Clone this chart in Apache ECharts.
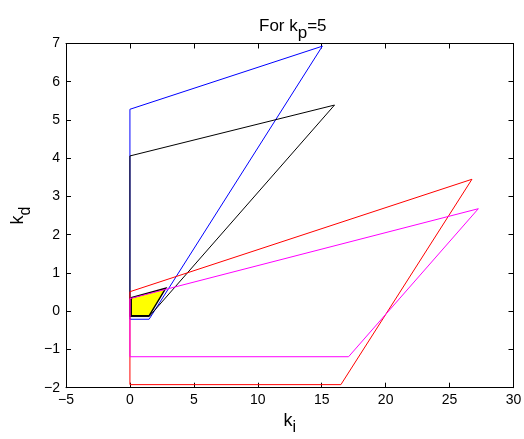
<!DOCTYPE html>
<html>
<head>
<meta charset="utf-8">
<script src="https://cdn.jsdelivr.net/npm/echarts@6/dist/echarts.min.js"></script>
<style>
html,body{margin:0;padding:0;background:#fff;}
#c{width:524px;height:439px;}
</style>
</head>
<body>
<div id="c"></div>
<script>
// Data
const blueX = [0, 15.05, 1.5, 0, 0];
const blueY = [5.28, 6.93, -0.21, -0.21, 5.28];
const blackX = [0, 16.0, 1.5, 0, 0];
const blackY = [4.06, 5.39, -0.14, -0.14, 4.06];
const redX = [0, 26.75, 16.5, 0, 0];
const redY = [0.51, 3.45, -1.92, -1.92, 0.51];
const magentaX = [0, 27.25, 17.1, 0, 0];
const magentaY = [0.33, 2.68, -1.19, -1.19, 0.33];
const yellowX = [0.1, 2.8, 1.5, 0.1];
const yellowY = [0.35, 0.6, -0.12, -0.12];
const xTicks = [-5, 0, 5, 10, 15, 20, 25, 30];
const yTicks = [-2, -1, 0, 1, 2, 3, 4, 5, 6, 7];

const FONT = 'Liberation Sans';
const pairs = (xs, ys) => xs.map((x, i) => [x, ys[i]]);
const fmt = v => String(v).replace('-', '\u2212');

function lineSeries(xs, ys, color) {
  return {
    type: 'line', xAxisIndex: 0, yAxisIndex: 0,
    data: pairs(xs, ys), showSymbol: false, symbol: 'none',
    lineStyle: { color: color, width: 1 }, itemStyle: { color: color },
    animation: false, silent: true
  };
}

const chart = echarts.init(document.getElementById('c'), null, { renderer: 'canvas' });
const axisCommon = {
  type: 'value',
  axisLine: { show: true, onZero: false, lineStyle: { color: '#000', width: 1 } },
  axisTick: { show: true, inside: true, length: 5, lineStyle: { color: '#000' } },
  splitLine: { show: false }
};
chart.setOption({
  backgroundColor: '#fff',
  animation: false,
  title: {
    text: 'For k{sub|p}=5',
    left: 254, top: 6,
    textStyle: {
      fontFamily: FONT, fontSize: 17, fontWeight: 'normal', color: '#000',
      rich: { sub: { fontFamily: FONT, fontSize: 17, color: '#000', padding: [14, 0, 0, 0] } }
    }
  },
  grid: { left: 66, right: 10.5, top: 43.5, bottom: 51.3, containLabel: false, outerBoundsMode: 'none' },
  xAxis: [
    Object.assign({}, axisCommon, {
      position: 'bottom', min: -5, max: 30, interval: 5,
      name: 'k{sub|i}', nameLocation: 'middle', nameGap: 17,
      nameTextStyle: { fontFamily: FONT, fontSize: 18, color: '#000',
        rich: { sub: { fontFamily: FONT, fontSize: 16, color: '#000', padding: [14, 0, 0, 0] } } },
      axisLabel: { fontFamily: FONT, fontSize: 14, color: '#000', margin: 5, formatter: fmt }
    }),
    Object.assign({}, axisCommon, {
      position: 'top', min: -5, max: 30, interval: 5,
      axisLabel: { show: false }
    })
  ],
  yAxis: [
    Object.assign({}, axisCommon, {
      position: 'left', min: -2, max: 7, interval: 1,
      name: 'k{sub|d}', nameLocation: 'middle', nameGap: 31, nameRotate: 90,
      nameTextStyle: { fontFamily: FONT, fontSize: 18, color: '#000',
        rich: { sub: { fontFamily: FONT, fontSize: 16, color: '#000', padding: [14, 0, 0, 0] } } },
      axisLabel: { fontFamily: FONT, fontSize: 14, color: '#000', margin: 6, formatter: fmt }
    }),
    Object.assign({}, axisCommon, {
      position: 'right', min: -2, max: 7, interval: 1,
      axisLabel: { show: false }
    })
  ],
  series: [
    lineSeries(blueX, blueY, '#0000ff'),
    lineSeries(blackX, blackY, '#000000'),
    lineSeries(redX, redY, '#ff0000'),
    lineSeries(magentaX, magentaY, '#ff00ff'),
    {
      type: 'custom', xAxisIndex: 0, yAxisIndex: 0,
      data: [0], silent: true, animation: false,
      renderItem: function (params, api) {
        const pts = yellowX.map((x, i) => api.coord([x, yellowY[i]]));
        return { type: 'polygon', shape: { points: pts },
          style: { fill: '#ffff00', stroke: '#000', lineWidth: 1.5 } };
      }
    }
  ]
});
</script>
</body>
</html>
